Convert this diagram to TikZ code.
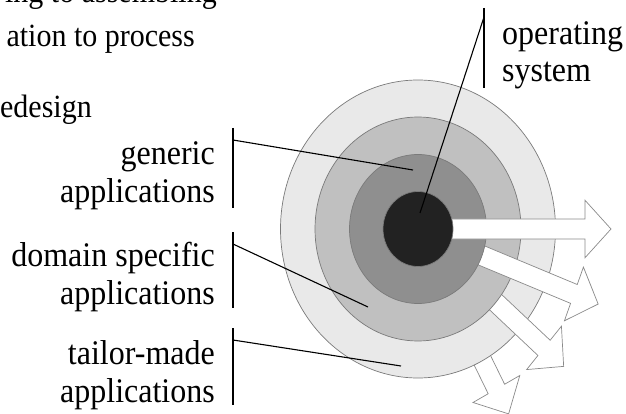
\documentclass[tikz,border=0pt]{standalone}
\usepackage{fontspec}
\setmainfont{Liberation Serif}
\definecolor{coreclr}{HTML}{222222}
\definecolor{ringA}{HTML}{8F8F8F}
\definecolor{ringB}{HTML}{C0C0C0}
\definecolor{ringC}{HTML}{E9E9E9}
\definecolor{ringline}{HTML}{7A7A7A}
\definecolor{arrowline}{HTML}{8A8A8A}
% one outgoing block arrow, pointing #1 degrees below the horizontal
\newcommand\blockarrow[1]{%
  \begin{scope}[shift={(c)}, yscale=1.085, rotate=-#1]
    \draw[outarrow] (0,-9.3) -- (167,-9.3) -- (167,-26.5) -- (193,0)
      -- (167,26.5) -- (167,9.3) -- (0,9.3) -- cycle;
  \end{scope}}
\begin{document}
\begin{tikzpicture}[x=1pt,y=-1pt,
  ring/.style={draw=ringline, line width=0.7pt},
  outarrow/.style={draw=arrowline, fill=white, line width=0.7pt, line join=miter},
  leader/.style={draw=black, line width=1.1pt},
  lbl/.style={font=\fontsize{32}{34.3}\selectfont, inner sep=0pt, yscale=1.08, transform shape},
  note/.style={font=\fontsize{30}{32}\selectfont, inner sep=0pt, yscale=1.08, transform shape}]
\clip (0,0) rectangle (626,414);

\coordinate (c) at (418,229);

% rings, each covering the tail of the arrow drawn before it
\blockarrow{62}
\draw[ring, fill=ringC] (c) ellipse [x radius=137.5, y radius=149];
\blockarrow{41}
\draw[ring, fill=ringB] (c) ellipse [x radius=103, y radius=112];
\blockarrow{21}
\draw[ring, fill=ringA] (c) ellipse [x radius=68.5, y radius=74.5];
\blockarrow{0}
\draw[ring, fill=coreclr] (c) ellipse [x radius=35, y radius=37.5];

% text lines at the top left
\node[note, anchor=base east] (n1) at (217,3) {ing to assembling};
\node[note, anchor=base east] (n2) at (195,47) {ation to process};
\node[note, anchor=base east] (n3) at (92,118) {edesign};

% labels (anchored at the baseline of their last line)
\node[lbl, align=right, anchor=base east] (gen) at (215,202) {generic\\applications};
\node[lbl, align=right, anchor=base east] (dom) at (215,304) {domain specific\\applications};
\node[lbl, align=right, anchor=base east] (tm) at (215,402) {tailor-made\\applications};
\node[lbl, align=left, anchor=base west] (os) at (502,82) {operating\\system};

% label brackets and leader points
\coordinate (os-top) at (484,8);   \coordinate (os-bot) at (484,88);
\coordinate (os-tick) at (484,17); \coordinate (os-end) at (420,213);
\coordinate (gen-top) at (233,128);  \coordinate (gen-bot) at (233,208);
\coordinate (gen-tick) at (233,140); \coordinate (gen-end) at (413,170);
\coordinate (dom-top) at (233,232);  \coordinate (dom-bot) at (233,308);
\coordinate (dom-tick) at (233,244); \coordinate (dom-end) at (368,307);
\coordinate (tm-top) at (233,328);  \coordinate (tm-bot) at (233,405);
\coordinate (tm-tick) at (233,340); \coordinate (tm-end) at (401,366);

\foreach \k in {os,gen,dom,tm}{
  \draw[leader] (\k-top) -- (\k-bot);
  \draw[leader] (\k-tick) -- (\k-end);
}
\end{tikzpicture}
\end{document}
